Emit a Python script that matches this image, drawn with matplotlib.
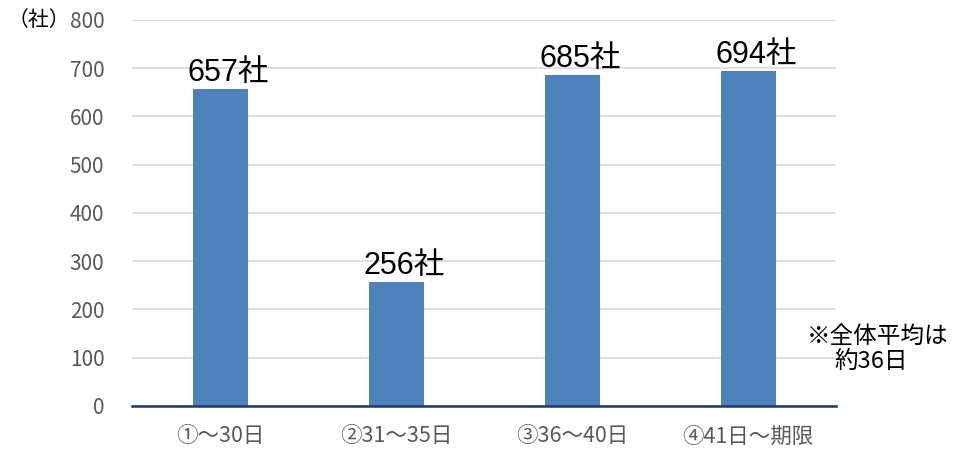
import matplotlib
matplotlib.use("Agg")
import matplotlib.pyplot as plt

plt.rcParams['font.family'] = ['Noto Sans CJK JP', 'DejaVu Sans']
label_family = ['Liberation Sans', 'Noto Sans CJK JP']

# 支払サイト別の企業数
categories = ['①～30日', '②31～35日', '③36～40日', '④41日～期限']
counts = [657, 256, 685, 694]
y_ticks = [0, 100, 200, 300, 400, 500, 600, 700, 800]

bar_color = '#4f81bd'
tick_color = '#595959'

fig = plt.figure(figsize=(9.57, 4.49), dpi=100)
ax = fig.add_axes([0.138, 0.0958, 0.7356, 0.8597])

x = range(len(categories))
bars = ax.bar(x, counts, width=0.3125, color=bar_color, zorder=3)

for rect, v in zip(bars, counts):
    ax.annotate(f'{v}社', (rect.get_x() + rect.get_width() / 2, v),
                xytext=(6, 1), textcoords='offset points',
                ha='center', va='bottom', fontsize=22, color='black',
                family=label_family, zorder=4)

ax.set_xlim(-0.5, len(categories) - 0.5)
ax.set_ylim(0, 800)
ax.set_yticks(y_ticks)
ax.set_xticks(list(x))
ax.set_xticklabels(categories)

ax.grid(axis='y', color='#d9d9d9', linewidth=1.2, zorder=0)
for side in ['top', 'right', 'left']:
    ax.spines[side].set_visible(False)
ax.spines['bottom'].set_color('#1f3864')
ax.spines['bottom'].set_linewidth(1.8)
ax.spines['bottom'].set_zorder(5)

ax.tick_params(axis='both', length=0, colors=tick_color)
ax.tick_params(axis='y', pad=20, labelsize=15)
ax.tick_params(axis='x', pad=14, labelsize=15.5)

fig.text(0.008, 0.955, '（社）', fontsize=15, color='black', ha='left', va='center')
fig.text(0.843, 0.250, '※全体平均は', fontsize=17, color='black', ha='left', va='center')
fig.text(0.872, 0.194, '約36日', fontsize=17, color='black', ha='left', va='center')

fig.savefig('out.png', dpi=100)
